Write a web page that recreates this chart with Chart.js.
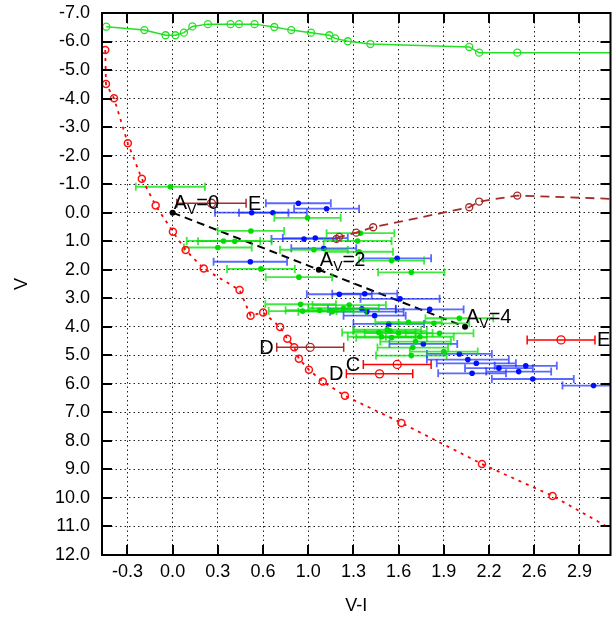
<!DOCTYPE html>
<html>
<head>
<meta charset="utf-8">
<script src="https://cdn.jsdelivr.net/npm/chart.js@4"></script>
<style>
  html, body { margin: 0; padding: 0; background: #fff; }
  #c { display: block; }
</style>
</head>
<body>
<canvas id="c" width="616" height="617"></canvas>
<script>
// ---------- data ----------
const xTickValues = [-0.32, 0, 0.32, 0.64, 0.96, 1.28, 1.6, 1.92, 2.24, 2.56, 2.88];
const xTickLabels = ['-0.3', '0.0', '0.3', '0.6', '1.0', '1.3', '1.6', '1.9', '2.2', '2.6', '2.9'];
const yTickValues = [-7, -6, -5, -4, -3, -2, -1, 0, 1, 2, 3, 4, 5, 6, 7, 8, 9, 10, 11, 12];

// upper green track
const topVI = [-0.47, -0.20, -0.05, 0.02, 0.08, 0.14, 0.25, 0.41, 0.47, 0.58, 0.72, 0.84, 0.98, 1.11, 1.15, 1.24, 1.40, 2.10, 2.17, 2.44, 3.25];
const topV  = [-6.52, -6.40, -6.22, -6.22, -6.31, -6.53, -6.61, -6.61, -6.61, -6.61, -6.51, -6.40, -6.31, -6.22, -6.11, -6.01, -5.91, -5.81, -5.61, -5.61, -5.61];

// red dotted sequence
const seqVI = [-0.477, -0.472, -0.415, -0.317, -0.218, -0.12, 0.002, 0.092, 0.22, 0.474, 0.552, 0.641, 0.761, 0.812, 0.861, 0.894, 0.965, 1.063, 1.22, 1.62, 2.19, 2.69, 3.2];
const seqV  = [-5.70, -4.51, -4.01, -2.43, -1.19, -0.25, 0.67, 1.31, 1.96, 2.71, 3.61, 3.50, 4.01, 4.42, 4.72, 5.12, 5.51, 5.92, 6.42, 7.37, 8.81, 9.93, 11.35];

// brown dashed track
const brownVI = [1.16, 1.18, 1.30, 1.42, 2.10, 2.17, 2.44, 3.25];
const brownV  = [0.92, 0.85, 0.70, 0.51, -0.19, -0.39, -0.60, -0.46];

// reddening vector
const vecVI = [0, 1.035, 2.07];
const vecV  = [0, 2, 4];
const vecAV = ['0', '2', '4'];

// blue sources
const blueVI  = [0.89, 1.09, 0.56, 0.71, 0.93, 1.01, 1.07, 0.55, 1.59, 1.18, 1.36, 1.61, 1.82, 1.34, 1.375, 1.43, 1.53, 1.775, 2.03, 2.09, 2.15, 2.31, 2.12, 2.50, 2.45, 2.55, 2.98];
const blueV   = [-0.33, -0.14, 0.0, 0.0, 0.92, 0.89, 1.25, 1.72, 1.60, 2.86, 2.84, 3.02, 3.39, 3.37, 3.47, 3.61, 3.90, 4.60, 4.95, 5.15, 5.28, 5.45, 5.63, 5.37, 5.57, 5.83, 6.06];
const blueErr = [0.23, 0.23, 0.26, 0.24, 0.23, 0.23, 0.23, 0.26, 0.24, 0.23, 0.23, 0.28, 0.24, 0.24, 0.26, 0.22, 0.25, 0.24, 0.23, 0.29, 0.28, 0.24, 0.24, 0.22, 0.23, 0.29, 0.22];

// green sources
const greenVI  = [-0.016, 0.955, 0.554, 0.36, 0.44, 0.32, 1.33, 1.31, 1.00, 1.32, 1.55, 0.625, 1.69, 0.894, 0.906, 0.92, 1.04, 1.13, 1.25, 1.21, 1.67, 2.03, 1.85, 1.89, 1.46, 1.54, 1.60, 1.55, 1.72, 1.70, 1.69, 1.92, 1.48, 1.75, 1.52];
const greenV   = [-0.91, 0.18, 0.64, 0.99, 1.00, 1.22, 0.72, 0.99, 1.30, 1.37, 1.68, 1.97, 2.09, 2.26, 3.21, 3.45, 3.42, 3.47, 3.24, 3.35, 3.84, 3.70, 3.88, 4.23, 4.20, 4.15, 4.22, 4.38, 4.52, 4.73, 5.01, 4.87, 4.35, 4.35, 4.10];
const greenErr = [0.245, 0.235, 0.235, 0.26, 0.26, 0.24, 0.24, 0.24, 0.24, 0.24, 0.23, 0.24, 0.235, 0.235, 0.25, 0.24, 0.24, 0.24, 0.26, 0.25, 0.235, 0.24, 0.25, 0.24, 0.26, 0.26, 0.24, 0.25, 0.25, 0.25, 0.25, 0.24, 0.24, 0.24, 0.24];

// labelled red and brown sources
const redVI  = [1.59, 1.465, 2.75];
const redV   = [5.32, 5.65, 4.46];
const redErr = [0.24, 0.235, 0.24];
const redLabels = ['C', 'D', 'E'];

const brnVI  = [0.275, 0.974];
const brnV   = [-0.33, 4.72];
const brnErr = [0.245, 0.237];
const brnLabels = ['E', 'D'];

// ---------- helpers ----------
const pts = (xs, ys) => xs.map((x, i) => ({ x: x, y: ys[i] }));
const FONT = 'Liberation Sans, Arial, Helvetica, sans-serif';

const errorBarPlugin = {
  id: 'errbars',
  beforeDatasetDraw(chart, args) {
    const ds = chart.data.datasets[args.index];
    if (!ds.errX) return;
    const xs = chart.scales.x, ys = chart.scales.y, ca = chart.chartArea;
    const ctx = chart.ctx;
    ctx.save();
    ctx.beginPath();
    ctx.rect(ca.left, ca.top, ca.right - ca.left, ca.bottom - ca.top);
    ctx.clip();
    ctx.strokeStyle = ds.errColor;
    ctx.lineWidth = ds.errWidth || 1.5;
    const cap = ds.errCap || 4;
    ds.data.forEach((p, i) => {
      const e = ds.errX[i];
      const x1 = xs.getPixelForValue(p.x - e);
      const x2 = xs.getPixelForValue(p.x + e);
      const y = ys.getPixelForValue(p.y);
      ctx.beginPath();
      ctx.moveTo(x1, y); ctx.lineTo(x2, y);
      ctx.moveTo(x1, y - cap); ctx.lineTo(x1, y + cap);
      ctx.moveTo(x2, y - cap); ctx.lineTo(x2, y + cap);
      ctx.stroke();
    });
    ctx.restore();
  }
};

const framePlugin = {
  id: 'frame',
  afterDatasetsDraw(chart) {
    const ctx = chart.ctx, ca = chart.chartArea;
    const xs = chart.scales.x, ys = chart.scales.y;
    ctx.save();
    ctx.fillStyle = '#000';
    // A_V labels
    vecVI.forEach((v, i) => {
      const px = xs.getPixelForValue(v), py = ys.getPixelForValue(vecV[i]);
      ctx.textBaseline = 'alphabetic';
      ctx.textAlign = 'left';
      ctx.font = '20px ' + FONT;
      let x = px + 1;
      ctx.fillText('A', x, py - 4);
      x += ctx.measureText('A').width;
      ctx.font = '14px ' + FONT;
      ctx.fillText('V', x, py + 1);
      x += ctx.measureText('V').width;
      ctx.font = '20px ' + FONT;
      ctx.fillText('=' + vecAV[i], x, py - 4);
    });
    // letter labels
    const drawLetters = (xsArr, ysArr, errs, labels) => {
      ctx.font = '20px ' + FONT;
      ctx.textBaseline = 'middle';
      labels.forEach((l, i) => {
        const py = ys.getPixelForValue(ysArr[i]);
        if (l === 'E') {
          ctx.textAlign = 'left';
          ctx.fillText(l, xs.getPixelForValue(xsArr[i] + errs[i]) + 2, py + 1);
        } else {
          ctx.textAlign = 'right';
          ctx.fillText(l, xs.getPixelForValue(xsArr[i] - errs[i]) - 3, py + 1);
        }
      });
    };
    drawLetters(redVI, redV, redErr, redLabels);
    drawLetters(brnVI, brnV, brnErr, brnLabels);

    // frame
    ctx.strokeStyle = '#000';
    ctx.lineWidth = 2;
    ctx.strokeRect(ca.left, ca.top, ca.right - ca.left, ca.bottom - ca.top);
    // inward ticks
    const tl = 10;
    ctx.beginPath();
    xTickValues.forEach(v => {
      const px = Math.round(xs.getPixelForValue(v));
      ctx.moveTo(px, ca.bottom); ctx.lineTo(px, ca.bottom - tl);
      ctx.moveTo(px, ca.top); ctx.lineTo(px, ca.top + tl);
    });
    yTickValues.forEach(v => {
      const py = Math.round(ys.getPixelForValue(v));
      ctx.moveTo(ca.left, py); ctx.lineTo(ca.left + tl, py);
      ctx.moveTo(ca.right, py); ctx.lineTo(ca.right - tl, py);
    });
    ctx.stroke();
    ctx.restore();
  }
};

const ctx = document.getElementById('c').getContext('2d');
new Chart(ctx, {
  type: 'scatter',
  data: {
    datasets: [
      {
        label: 'upper', type: 'line', data: pts(topVI, topV),
        borderColor: '#22e022', borderWidth: 1.5, showLine: true, fill: false, tension: 0,
        pointRadius: 3.5, pointBorderWidth: 1.3, pointBorderColor: '#22e022', pointBackgroundColor: 'rgba(255,255,255,0)'
      },
      {
        label: 'seq', type: 'line', data: pts(seqVI, seqV),
        borderColor: '#ff0000', borderWidth: 1.8, borderDash: [3, 5], showLine: true, fill: false, tension: 0,
        pointRadius: 3.5, pointBorderWidth: 1.5, pointBorderColor: '#ff1010', pointBackgroundColor: 'rgba(255,255,255,0)'
      },
      {
        label: 'brownTrack', type: 'line', data: pts(brownVI, brownV),
        borderColor: '#a52a2a', borderWidth: 1.8, borderDash: [9, 6], showLine: true, fill: false, tension: 0,
        pointRadius: 3.5, pointBorderWidth: 1.3, pointBorderColor: '#a52a2a', pointBackgroundColor: 'rgba(255,255,255,0)'
      },
      {
        label: 'green', data: pts(greenVI, greenV), errX: greenErr,
        errColor: 'rgba(0,225,0,0.75)', errWidth: 1.8, errCap: 4,
        pointRadius: 2.8, pointBorderWidth: 0, pointBackgroundColor: '#00dd00', showLine: false
      },
      {
        label: 'blue', data: pts(blueVI, blueV), errX: blueErr,
        errColor: 'rgba(20,40,255,0.7)', errWidth: 1.8, errCap: 4,
        pointRadius: 2.8, pointBorderWidth: 0, pointBackgroundColor: '#0010ff', showLine: false
      },
      {
        label: 'vector', type: 'line', data: pts(vecVI, vecV),
        borderColor: '#000', borderWidth: 2, borderDash: [8, 5], showLine: true, fill: false, tension: 0,
        pointRadius: 3, pointBorderWidth: 0, pointBackgroundColor: '#000'
      },
      {
        label: 'brownPts', data: pts(brnVI, brnV), errX: brnErr,
        errColor: '#a52a2a', errWidth: 1.5, errCap: 4.5,
        pointRadius: 4, pointBorderWidth: 1.3, pointBorderColor: '#a52a2a', pointBackgroundColor: 'rgba(255,255,255,0)', showLine: false
      },
      {
        label: 'redPts', data: pts(redVI, redV), errX: redErr,
        errColor: '#ff0000', errWidth: 1.5, errCap: 4.5,
        pointRadius: 4, pointBorderWidth: 1.3, pointBorderColor: '#ff0000', pointBackgroundColor: 'rgba(255,255,255,0)', showLine: false
      }
    ]
  },
  options: {
    responsive: false,
    animation: false,
    devicePixelRatio: 1,
    layout: { padding: { top: 13, right: 3, left: 0, bottom: 0 } },
    plugins: { legend: { display: false }, tooltip: { enabled: false } },
    scales: {
      x: {
        type: 'linear', min: -0.5, max: 3.1,
        afterBuildTicks: (s) => { s.ticks = xTickValues.map(v => ({ value: v })); },
        afterFit: (s) => { s.height = 62; s.paddingLeft = 0; s.paddingRight = 0; },
        ticks: {
          font: { family: FONT, size: 18 }, color: '#000', padding: 6, maxRotation: 0,
          callback: (v, i) => xTickLabels[i]
        },
        grid: { color: '#222', lineWidth: 1, drawTicks: false },
        border: { display: false, dash: [1.5, 3] },
        title: { display: true, text: 'V-I', font: { family: FONT, size: 18 }, color: '#000', padding: { top: 0, bottom: 0 } }
      },
      y: {
        type: 'linear', min: -7, max: 12, reverse: true,
        afterBuildTicks: (s) => { s.ticks = yTickValues.map(v => ({ value: v })); },
        afterFit: (s) => { s.width = 102; s.paddingTop = 0; s.paddingBottom = 0; },
        ticks: {
          font: { family: FONT, size: 18 }, color: '#000', padding: 12,
          callback: (v) => Number(v).toFixed(1)
        },
        grid: { color: '#222', lineWidth: 1, drawTicks: false },
        border: { display: false, dash: [1.5, 3] },
        title: { display: true, text: 'V', font: { family: FONT, size: 18 }, color: '#000', padding: { top: 11, bottom: 0 } }
      }
    }
  },
  plugins: [errorBarPlugin, framePlugin]
});
</script>
</body>
</html>
